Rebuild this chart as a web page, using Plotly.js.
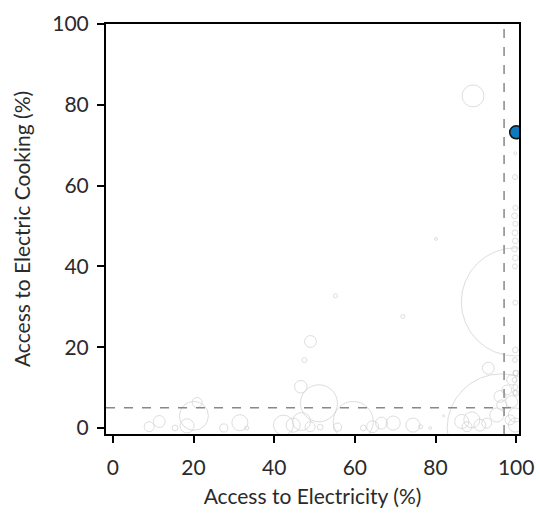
<!DOCTYPE html>
<html>
<head>
<meta charset="utf-8">
<script src="https://cdn.plot.ly/plotly-3.0.1.min.js"></script>
<style>html,body{margin:0;padding:0;background:#fff}#chart{width:540px;height:513px}</style>
</head>
<body>
<div id="chart"></div>
<script>
// Grey bubbles: other countries (access to electricity %, access to electric cooking %, population in millions)
const otherElectricity = [
  99.8, 96.3, 51.1, 59.6, 20.1, 89.3, 49.0, 46.6, 93.1, 20.9, 47.5, 55.2, 71.9, 80.1,
  11.5, 9.0, 15.4, 18.4, 27.5, 31.5, 33.2, 42.3, 44.7, 46.8, 48.9, 51.4, 55.7, 62.1, 64.4,
  66.6, 69.5, 74.4, 76.3, 78.7, 82.0,
  86.5, 89.0, 91.0, 87.8, 92.7, 95.2, 96.0, 96.4, 97.7, 98.9, 98.9, 99.8, 99.8, 98.5, 100, 100,
  99.8, 99.7, 99.8, 99.6, 99.8, 99.7, 99.8, 99.6, 99.8, 99.7, 99.8, 99.8, 99.7, 99.8, 99.6, 99.8, 99.7
];
const otherCooking = [
  31.2, 0.0, 6.1, 1.6, 3.0, 82.2, 21.4, 10.2, 14.8, 6.3, 16.8, 32.7, 27.6, 46.8,
  1.6, 0.3, 0.0, 0.5, 0.0, 1.3, 0.0, 0.7, 0.7, 1.6, 0.3, 0.2, 0.2, 0.0, 0.3,
  1.2, 1.2, 0.7, 0.3, 0.0, 3.0,
  1.6, 2.0, 0.7, 0.3, 1.2, 3.2, 7.8, 5.7, 9.4, 11.9, 6.5, 3.2, 0.7, 2.0, 8.6, 13.6,
  68.0, 62.1, 54.5, 52.5, 50.5, 48.3, 46.3, 44.3, 42.1, 40.0, 31.0, 19.3, 16.8, 13.6, 11.9, 10.1, 8.7
];
const otherPopulation = [
  1410, 1410, 165, 193, 101, 58, 17, 19, 17, 12, 3, 2, 2, 1,
  17, 12, 4, 24, 8, 31, 2, 48, 24, 39, 12, 4, 8, 4, 17,
  17, 24, 24, 2, 1, 0.5,
  24, 31, 17, 12, 12, 24, 17, 12, 12, 12, 17, 24, 24, 12, 4, 4,
  1, 3, 3, 4, 3, 4, 4, 4, 4, 3, 3, 4, 3, 3, 3, 3, 3
];
// Highlighted country
const hiElectricity = [100];
const hiCooking = [73.2];

const pxPerSqrtPop = 2.88;

const data = [
  {
    type: 'scatter', mode: 'markers',
    x: otherElectricity, y: otherCooking,
    marker: {
      size: otherPopulation, sizemode: 'area', sizeref: 2 / (pxPerSqrtPop * pxPerSqrtPop), sizemin: 1,
      color: 'rgba(0,0,0,0)',
      line: {color: '#d0d0d0', width: 1}
    },
    hoverinfo: 'skip', showlegend: false
  },
  {
    type: 'scatter', mode: 'markers',
    x: hiElectricity, y: hiCooking,
    marker: {size: 13, color: '#0a7bbf', line: {color: '#111', width: 1.5}},
    showlegend: false
  }
];

const axisFont = {family: 'Lato, "Open Sans", sans-serif', size: 21, color: '#2a2a2a', weight: 400};

const layout = {
  width: 540, height: 513,
  margin: {l: 106, r: 21, t: 24, b: 79},
  paper_bgcolor: '#fff', plot_bgcolor: '#fff',
  font: axisFont,
  xaxis: {
    range: [-1.7, 100.7], tickvals: [0, 20, 40, 60, 80, 100],
    showgrid: false, zeroline: false,
    showline: true, mirror: true, linecolor: '#000', linewidth: 2,
    ticks: 'outside', ticklen: 7, tickwidth: 2, tickcolor: '#000',
    ticklabelstandoff: 7,
    tickfont: axisFont,
    title: {text: 'Access to Electricity (%)', font: axisFont, standoff: 11},
    automargin: false
  },
  yaxis: {
    range: [-1.5, 100], tickvals: [0, 20, 40, 60, 80, 100],
    showgrid: false, zeroline: false,
    showline: true, mirror: true, linecolor: '#000', linewidth: 2,
    ticks: 'outside', ticklen: 7, tickwidth: 2, tickcolor: '#000',
    ticklabelstandoff: 4,
    tickfont: axisFont,
    title: {text: 'Access to Electric Cooking (%)', font: axisFont, standoff: 16},
    automargin: false
  },
  shapes: [
    {type: 'line', xref: 'x', yref: 'paper', x0: 97, x1: 97, y0: 0, y1: 1,
     line: {color: '#888', width: 1.5, dash: 'dash'}},
    {type: 'line', xref: 'paper', yref: 'y', x0: 0, x1: 1, y0: 5, y1: 5,
     line: {color: '#888', width: 1.5, dash: 'dash'}}
  ]
};

Plotly.newPlot('chart', data, layout, {displayModeBar: false, staticPlot: true});
</script>
</body>
</html>
